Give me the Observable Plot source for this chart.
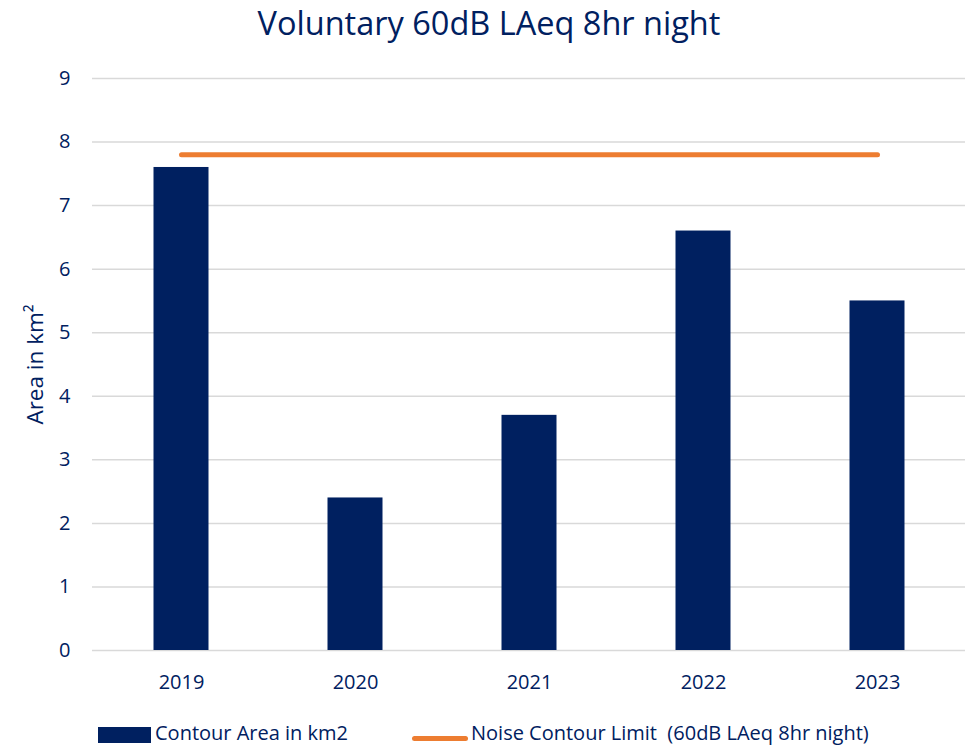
<!DOCTYPE html>
<html>
<head>
<meta charset="utf-8">
<script src="https://cdn.jsdelivr.net/npm/d3@7"></script>
<script src="https://cdn.jsdelivr.net/npm/@observablehq/plot@0.6"></script>
<style>
  html, body { margin: 0; padding: 0; background: #fff; }
  body { width: 966px; height: 746px; position: relative; overflow: hidden; font-family: "Open Sans", Lato, sans-serif; color: #002060; }
  #title { height: 50px; line-height: 46px; text-align: center; font-size: 32.5px; color: #002060; padding-left: 12px; }
  #legend { position: absolute; left: 0; top: 700px; width: 966px; height: 46px; font-size: 20px; line-height: 20px; color: #002060; }
  .sw-bar { position: absolute; left: 98px; top: 27px; width: 53px; height: 16px; background: #002060; }
  .sw-line { position: absolute; left: 412px; top: 36px; width: 56px; height: 5px; border-radius: 3px; background: #ED7D31; }
  .lt { position: absolute; top: 23px; white-space: nowrap; }
</style>
</head>
<body>
<div id="title">Voluntary 60dB LAeq 8hr night</div>
<div id="chart"></div>
<div id="legend">
  <div class="sw-bar"></div><div class="lt" style="left:155px">Contour Area in km2</div>
  <div class="sw-line"></div><div class="lt" style="left:471px">Noise Contour Limit &nbsp;(60dB LAeq 8hr night)</div>
</div>
<script>
const years = ["2019", "2020", "2021", "2022", "2023"];
const contourArea = [7.6, 2.4, 3.7, 6.6, 5.5];
const noiseLimit = [7.8, 7.8, 7.8, 7.8, 7.8];
const yTicks = [0, 1, 2, 3, 4, 5, 6, 7, 8, 9];

const bars = years.map((y, i) => ({year: y, value: contourArea[i]}));
const limit = years.map((y, i) => ({year: y, value: noiseLimit[i]}));

const chart = Plot.plot({
  width: 966,
  height: 650,
  marginLeft: 92,
  marginRight: 1,
  marginTop: 28,
  marginBottom: 50,
  style: {fontFamily: "'Open Sans', Lato, sans-serif", color: "#002060", background: "#fff"},
  x: {domain: years, padding: 0, label: null},
  y: {domain: [0, 9], label: null},
  marks: [
    Plot.ruleY(yTicks, {stroke: "#D9D9D9", strokeWidth: 1.5}),
    Plot.barY(bars, {x: "year", y: "value", fill: "#002060", insetLeft: 59.5, insetRight: 59.5}),
    Plot.lineY(limit, {x: "year", y: "value", stroke: "#ED7D31", strokeWidth: 5, strokeLinecap: "round"}),
    Plot.axisY({ticks: yTicks, tickSize: 0, tickPadding: 22, fontSize: 20, fill: "#002060", label: null}),
    Plot.axisX({tickSize: 0, tickPadding: 24, fontSize: 20, fill: "#002060", label: null}),
    Plot.text(["Area in km²"], {frameAnchor: "left", textAnchor: "middle", dx: -57, rotate: -90, fontSize: 22.5, fill: "#002060"})
  ]
});
document.getElementById("chart").appendChild(chart);
</script>
</body>
</html>
